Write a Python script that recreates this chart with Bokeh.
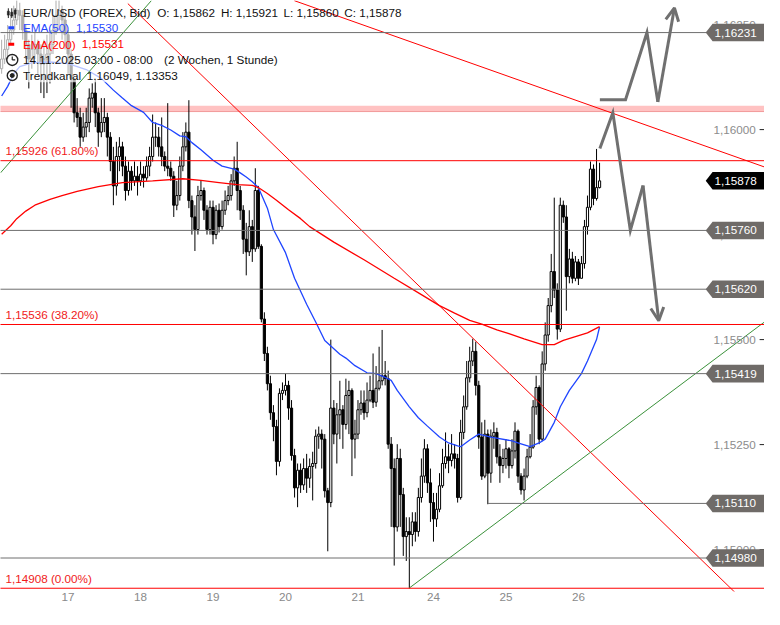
from bokeh.plotting import figure
from bokeh.models import Range1d, FixedTicker, Arrow, OpenHead
from bokeh.core.properties import value
from bokeh.embed import file_html
from bokeh.resources import INLINE

# ---------------- data (EUR/USD, 1h candles) ----------------
OPEN0 = 1.16145
CLOSE = [
    1.16168, 1.16191, 1.16214, 1.16237, 1.16261, 1.16284, 1.16272, 1.16237, 1.16203, 1.16168,
    1.16191, 1.16203, 1.16180, 1.16156, 1.16168, 1.16180, 1.16203, 1.16237, 1.16272, 1.16284,
    1.16261, 1.16226, 1.16180, 1.16121, 1.16040, 1.16029, 1.15982, 1.16006, 1.16017, 1.16075,
    1.16087, 1.16040, 1.15994, 1.16017, 1.16029, 1.15982, 1.15924, 1.15866, 1.15936, 1.15959,
    1.15913, 1.15855, 1.15901, 1.15878, 1.15889, 1.15878, 1.15894, 1.15885, 1.15913, 1.15936,
    1.15982, 1.15982, 1.15959, 1.15936, 1.15913, 1.15908, 1.15889, 1.15820, 1.15843, 1.15913,
    1.15959, 1.15994, 1.15831, 1.15792, 1.15762, 1.15843, 1.15855, 1.15808, 1.15762, 1.15815,
    1.15750, 1.15808, 1.15769, 1.15808, 1.15831, 1.15843, 1.15878, 1.15908, 1.15855, 1.15808,
    1.15739, 1.15709, 1.15769, 1.15716, 1.15855, 1.15722, 1.15549, 1.15467, 1.15395, 1.15326,
    1.15293, 1.15210, 1.15372, 1.15379, 1.15391, 1.15337, 1.15224, 1.15147, 1.15189, 1.15154,
    1.15193, 1.15170, 1.15198, 1.15205, 1.15270, 1.15275, 1.15263, 1.15140, 1.15112, 1.15337,
    1.15275, 1.15321, 1.15333, 1.15298, 1.15367, 1.15379, 1.15263, 1.15275, 1.15333, 1.15349,
    1.15326, 1.15356, 1.15379, 1.15351, 1.15384, 1.15402, 1.15414, 1.15407, 1.15251, 1.15193,
    1.15054, 1.15217, 1.15131, 1.15031, 1.15043, 1.15036, 1.15066, 1.15043, 1.15124, 1.15175,
    1.15240, 1.15159, 1.15112, 1.15073, 1.15096, 1.15152, 1.15205, 1.15221, 1.15212, 1.15228,
    1.15217, 1.15124, 1.15279, 1.15340, 1.15409, 1.15449, 1.15472, 1.15391, 1.15268, 1.15175,
    1.15275, 1.15182, 1.15270, 1.15279, 1.15221, 1.15200, 1.15217, 1.15240, 1.15200, 1.15235,
    1.15282, 1.15175, 1.15142, 1.15175, 1.15221, 1.15244, 1.15340, 1.15386, 1.15263, 1.15442,
    1.15511, 1.15581, 1.15662, 1.15618, 1.15525, 1.15820, 1.15792, 1.15650, 1.15692, 1.15646,
    1.15685, 1.15646, 1.15681, 1.15769, 1.15815, 1.15906, 1.15836, 1.15862, 1.15878,
]
HIGH = [
    1.16214, 1.16226, 1.16249, 1.16272, 1.16295, 1.16307, 1.16302, 1.16284, 1.16249, 1.16214,
    1.16226, 1.16237, 1.16214, 1.16203, 1.16214, 1.16226, 1.16237, 1.16272, 1.16307, 1.16307,
    1.16295, 1.16272, 1.16237, 1.16191, 1.16121, 1.16075, 1.16052, 1.16040, 1.16052, 1.16098,
    1.16110, 1.16121, 1.16052, 1.16075, 1.16075, 1.16040, 1.15994, 1.15959, 1.15971, 1.15982,
    1.15971, 1.15936, 1.15924, 1.15913, 1.15924, 1.15913, 1.15924, 1.15913, 1.15936, 1.15959,
    1.16036, 1.16017, 1.16006, 1.16029, 1.15948, 1.16063, 1.15924, 1.15901, 1.15878, 1.15936,
    1.15994, 1.16017, 1.16070, 1.15843, 1.15820, 1.15866, 1.15878, 1.15862, 1.15820, 1.15831,
    1.15831, 1.15820, 1.15824, 1.15831, 1.15855, 1.15866, 1.15894, 1.15936, 1.15971, 1.15866,
    1.15820, 1.15778, 1.15808, 1.15785, 1.15908, 1.15866, 1.15727, 1.15565, 1.15483, 1.15414,
    1.15344, 1.15309, 1.15384, 1.15398, 1.15419, 1.15402, 1.15356, 1.15240, 1.15205, 1.15205,
    1.15217, 1.15228, 1.15217, 1.15233, 1.15286, 1.15293, 1.15286, 1.15275, 1.15147, 1.15500,
    1.15356, 1.15349, 1.15402, 1.15344, 1.15407, 1.15402, 1.15384, 1.15309, 1.15356, 1.15379,
    1.15379, 1.15398, 1.15414, 1.15467, 1.15437, 1.15483, 1.15523, 1.15449, 1.15426, 1.15268,
    1.15217, 1.15251, 1.15240, 1.15147, 1.15077, 1.15077, 1.15089, 1.15089, 1.15147, 1.15217,
    1.15263, 1.15251, 1.15193, 1.15135, 1.15135, 1.15182, 1.15240, 1.15279, 1.15251, 1.15275,
    1.15251, 1.15228, 1.15309, 1.15367, 1.15449, 1.15483, 1.15502, 1.15495, 1.15402, 1.15303,
    1.15309, 1.15286, 1.15286, 1.15303, 1.15290, 1.15251, 1.15240, 1.15263, 1.15244, 1.15263,
    1.15303, 1.15286, 1.15182, 1.15193, 1.15240, 1.15275, 1.15356, 1.15414, 1.15391, 1.15472,
    1.15541, 1.15599, 1.15704, 1.15838, 1.15634, 1.15838, 1.15831, 1.15820, 1.15716, 1.15709,
    1.15699, 1.15692, 1.15699, 1.15785, 1.15843, 1.15924, 1.15917, 1.15954, 1.15921,
]
LOW = [
    1.16133, 1.16156, 1.16168, 1.16203, 1.16226, 1.16249, 1.16237, 1.16214, 1.16168, 1.16098,
    1.16145, 1.16168, 1.16133, 1.16087, 1.16075, 1.16087, 1.16110, 1.16180, 1.16226, 1.16237,
    1.16214, 1.16191, 1.16133, 1.16052, 1.16017, 1.16006, 1.15959, 1.15971, 1.15982, 1.15994,
    1.16052, 1.16006, 1.15959, 1.15982, 1.15994, 1.15936, 1.15901, 1.15820, 1.15843, 1.15901,
    1.15889, 1.15831, 1.15843, 1.15855, 1.15866, 1.15843, 1.15866, 1.15862, 1.15878, 1.15889,
    1.15924, 1.15959, 1.15936, 1.15913, 1.15901, 1.15889, 1.15878, 1.15792, 1.15808, 1.15831,
    1.15901, 1.15948, 1.15813, 1.15750, 1.15711, 1.15750, 1.15831, 1.15785, 1.15750, 1.15750,
    1.15727, 1.15739, 1.15755, 1.15762, 1.15797, 1.15820, 1.15831, 1.15866, 1.15808, 1.15785,
    1.15704, 1.15653, 1.15699, 1.15685, 1.15709, 1.15716, 1.15541, 1.15449, 1.15379, 1.15309,
    1.15258, 1.15177, 1.15198, 1.15356, 1.15367, 1.15309, 1.15212, 1.15124, 1.15101, 1.15135,
    1.15142, 1.15135, 1.15147, 1.15117, 1.15193, 1.15240, 1.15193, 1.15124, 1.14996, 1.15101,
    1.15251, 1.15205, 1.15263, 1.15240, 1.15286, 1.15275, 1.15175, 1.15217, 1.15263, 1.15321,
    1.15309, 1.15315, 1.15351, 1.15337, 1.15340, 1.15379, 1.15391, 1.15391, 1.15240, 1.15054,
    1.14962, 1.15043, 1.15054, 1.14985, 1.14973, 1.14908, 1.15008, 1.15019, 1.15031, 1.15112,
    1.15159, 1.15135, 1.15066, 1.15019, 1.15054, 1.15089, 1.15147, 1.15193, 1.15182, 1.15198,
    1.15193, 1.15112, 1.15119, 1.15263, 1.15333, 1.15398, 1.15437, 1.15367, 1.15240, 1.15166,
    1.15170, 1.15108, 1.15159, 1.15240, 1.15205, 1.15159, 1.15182, 1.15193, 1.15170, 1.15193,
    1.15217, 1.15159, 1.15131, 1.15117, 1.15170, 1.15217, 1.15240, 1.15321, 1.15251, 1.15258,
    1.15426, 1.15495, 1.15565, 1.15599, 1.15500, 1.15518, 1.15778, 1.15569, 1.15634, 1.15634,
    1.15639, 1.15630, 1.15646, 1.15669, 1.15750, 1.15808, 1.15820, 1.15831, 1.15860,
]

DAY_TICKS = [22, 46, 70, 94, 118, 143, 167, 191]
DAY_LABELS = ["17", "18", "19", "20", "21", "24", "25", "26"]

EMA50_IDX = [0, 2, 4, 6, 10, 16, 22, 28, 33, 37, 40, 43, 47, 50, 53, 56, 59, 61, 63, 66,
             70, 73, 77, 79, 81, 83, 85, 88, 90, 94, 97, 101, 104, 107, 112, 114, 117, 121, 124, 127,
             129, 131, 135, 138, 141, 145, 148, 151, 152, 155, 158, 162, 169, 172, 175, 178, 180, 183, 185, 188,
             192, 194, 197, 198]
EMA50_VAL = [1.16080, 1.16103, 1.16133, 1.16150, 1.16159, 1.16161, 1.16157, 1.16143, 1.16122, 1.16094,
             1.16075, 1.16057, 1.16041, 1.16017, 1.16010, 1.15999, 1.15985, 1.15983, 1.15969, 1.15952,
             1.15927, 1.15913, 1.15906, 1.15897, 1.15887, 1.15876, 1.15862, 1.15813, 1.15762, 1.15707,
             1.15646, 1.15584, 1.15542, 1.15498, 1.15465, 1.15456, 1.15438, 1.15421, 1.15419, 1.15410,
             1.15403, 1.15379, 1.15340, 1.15314, 1.15294, 1.15268, 1.15254, 1.15247, 1.15245, 1.15261,
             1.15275, 1.15268, 1.15259, 1.15252, 1.15245, 1.15254, 1.15263, 1.15303, 1.15340, 1.15379,
             1.15419, 1.15449, 1.15500, 1.15530]
EMA200_IDX = [0, 3, 5, 8, 11, 16, 20, 25, 32, 40, 50, 60, 66, 72, 78, 83, 85, 88, 91, 95,
              99, 102, 110, 120, 130, 139, 145, 150, 155, 159, 164, 168, 173, 179, 183, 186, 190, 194, 198]
EMA200_VAL = [1.15751, 1.15771, 1.15788, 1.15806, 1.15820, 1.15834, 1.15843, 1.15853, 1.15864, 1.15874,
              1.15878, 1.15883, 1.15879, 1.15874, 1.15869, 1.15867, 1.15862, 1.15848, 1.15832, 1.15809,
              1.15788, 1.15769, 1.15732, 1.15690, 1.15646, 1.15607, 1.15581, 1.15563, 1.15546, 1.15537,
              1.15523, 1.15514, 1.15502, 1.15488, 1.15488, 1.15498, 1.15507, 1.15516, 1.15531]

LEVELS = [1.16231, 1.15760, 1.15620, 1.15419, 1.15110, 1.14980]
LEVEL_START = [0, 0, 0, 0, 161, 0]
FIB_LEVELS = [1.15926, 1.15536, 1.14908]
FIB_PCT = ["61.80%", "38.20%", "0.00%"]
ZONE = [1.16043, 1.16057]
AXIS_TICKS = [1.1625, 1.1600, 1.1575, 1.1550, 1.1525, 1.1500]

TREND_STEEP_IDX = [41.79, 252.62]
TREND_STEEP_VAL = [1.16300, 1.14830]
TREND_FLAT_IDX = [96.93, 252.62]
TREND_FLAT_VAL = [1.16307, 1.15911]
TREND_UP_IDX = [134.9, 252.62]
TREND_UP_VAL = [1.14908, 1.15542]
TREND_UP2_IDX = [-0.38, 49.57]
TREND_UP2_VAL = [1.15897, 1.16307]

FC_UP_IDX = [198.1, 206.6, 213.7, 217.3, 222.8]
FC_UP_VAL = [1.16071, 1.16071, 1.16231, 1.16066, 1.16290]
FC_DN_IDX = [198.1, 202.4, 208.2, 212.4, 217.6]
FC_DN_VAL = [1.15955, 1.16040, 1.15760, 1.15867, 1.15545]

EMA50_LAST = 1.15530
EMA200_LAST = 1.15531

# ---------------- layout helpers (reference-pixel -> data) ----------------
PX = 0.0000232          # price per reference pixel
Y_AT_0 = 1.163074       # price at reference row 0
CANDLE_PX = 3.083       # reference pixels per candle
X_AT_0 = 1.17
REF_W, REF_H = 780, 625
W, H = 764, 609
BOTTOM = 18             # space for the date axis (figure pixels)
REF_FRAME_BOTTOM = (H - BOTTOM) * REF_H / H


def dx(px):
    return (px - X_AT_0) / CANDLE_PX


def dy(py):
    return Y_AT_0 - PX * py


def fmt(v):
    return f"{v:.5f}".replace(".", ",")


FONT = value("Liberation Sans")
FS = "11.7px"
GRAY_LINE = "#6e6e6e"
TAG_GRAY = "#6f6b68"
BLUE = "#1f45ff"
RED = "#ff0000"
GREEN = "#3a913a"
ARROW_GRAY = "#707070"

p = figure(width=W, height=H, output_backend="svg", toolbar_location=None,
           x_range=Range1d(dx(0), dx(REF_W)), y_range=Range1d(dy(REF_FRAME_BOTTOM), dy(0)),
           y_axis_location=None, min_border=0, min_border_bottom=BOTTOM,
           outline_line_color=None, background_fill_color="white", border_fill_color="white")
p.grid.visible = False

ax = p.xaxis[0]
ax.ticker = FixedTicker(ticks=DAY_TICKS)
ax.major_label_overrides = {t: l for t, l in zip(DAY_TICKS, DAY_LABELS)}
ax.axis_line_color = None
ax.major_tick_line_color = None
ax.minor_tick_line_color = None
ax.major_tick_out = 0
ax.major_tick_in = 0
ax.minor_tick_out = 0
ax.major_label_standoff = 1
ax.major_label_text_font = "Liberation Sans"
ax.major_label_text_font_size = FS
ax.major_label_text_color = "#8a8a8a"

n = len(CLOSE)
idx = list(range(n))
OPEN = [OPEN0] + CLOSE[:-1]
tops = [max(o, c) for o, c in zip(OPEN, CLOSE)]
bots = [min(o, c) for o, c in zip(OPEN, CLOSE)]
fills = ["white" if c >= o else "black" for o, c in zip(OPEN, CLOSE)]

XL, XR = dx(-20), dx(800)

# resistance zone
p.quad(left=XL, right=XR, bottom=ZONE[0], top=ZONE[1], fill_color="#ffc2c2", line_color=None)
p.line([XL, XR], [ZONE[0], ZONE[0]], line_color="#f29a9a", line_width=1)

# candles
p.segment(x0=idx, y0=LOW, x1=idx, y1=HIGH, line_color="black", line_width=1)
p.vbar(x=idx, width=0.72, top=tops, bottom=bots, fill_color=fills,
       line_color="black", line_width=1)

# EMAs
p.line(EMA50_IDX, EMA50_VAL, line_color=BLUE, line_width=1.3)
p.line(EMA200_IDX, EMA200_VAL, line_color=RED, line_width=1.3)

# legend background (semi-transparent)
p.quad(left=XL, right=dx(400), bottom=dy(84), top=dy(-10), fill_color="white",
       fill_alpha=0.68, line_color=None)

# trend lines
p.line(TREND_STEEP_IDX, TREND_STEEP_VAL, line_color=RED, line_width=1)
p.line(TREND_FLAT_IDX, TREND_FLAT_VAL, line_color=RED, line_width=1)
p.line(TREND_UP_IDX, TREND_UP_VAL, line_color=GREEN, line_width=1)
p.line(TREND_UP2_IDX, TREND_UP2_VAL, line_color=GREEN, line_width=1)

# horizontal support/resistance levels
for lv, st in zip(LEVELS, LEVEL_START):
    x0 = st if st > 0 else XL
    p.line([x0, dx(722)], [lv, lv], line_color=GRAY_LINE, line_width=1)

# fibonacci levels
for lv in FIB_LEVELS:
    p.line([XL, XR], [lv, lv], line_color=RED, line_width=1)
p.text(x=[dx(5)] * 3, y=[lv + 10.5 * PX for lv in FIB_LEVELS],
       text=[f"{fmt(lv)} ({pc})" for lv, pc in zip(FIB_LEVELS, FIB_PCT)],
       text_font=FONT, text_font_size=FS, text_color="#f01a1a",
       text_baseline="middle", text_align="left")

# forecast scenario arrows
p.line(FC_UP_IDX[:-1], FC_UP_VAL[:-1], line_color=ARROW_GRAY, line_width=3, line_join="miter")
p.line(FC_DN_IDX[:-1], FC_DN_VAL[:-1], line_color=ARROW_GRAY, line_width=3, line_join="miter")
for xs, ys in ((FC_UP_IDX, FC_UP_VAL), (FC_DN_IDX, FC_DN_VAL)):
    p.add_layout(Arrow(end=OpenHead(size=13, line_color=ARROW_GRAY, line_width=3),
                       x_start=xs[-2], y_start=ys[-2], x_end=xs[-1], y_end=ys[-1],
                       line_color=ARROW_GRAY, line_width=3))

# price axis labels (inside the plot, right side) with small tick dashes
p.text(x=[dx(771)] * len(AXIS_TICKS), y=AXIS_TICKS, text=[fmt(v) for v in AXIS_TICKS],
       text_font=FONT, text_font_size=FS, text_color="#8c8c8c",
       text_baseline="middle", text_align="right")
p.segment(x0=[dx(775)] * len(AXIS_TICKS), y0=AXIS_TICKS, x1=[dx(780)] * len(AXIS_TICKS),
          y1=AXIS_TICKS, line_color="#222222", line_width=1)

# price tags
tag_vals = LEVELS + [CLOSE[-1]]
tag_cols = [TAG_GRAY] * len(LEVELS) + ["black"]
hh = 9 * PX
xs_t, ys_t = [], []
for v in tag_vals:
    xs_t.append([dx(720), dx(727), dx(790), dx(790), dx(727)])
    ys_t.append([v, v + hh, v + hh, v - hh, v - hh])
p.patches(xs_t, ys_t, fill_color=tag_cols, line_color=None)
p.text(x=[dx(729)] * len(tag_vals), y=tag_vals, text=[fmt(v) for v in tag_vals],
       text_font=FONT, text_font_size=FS, text_color="white",
       text_baseline="middle", text_align="left")

# legend / header texts
o_l, h_l, l_l, c_l = OPEN[-1], HIGH[-1], LOW[-1], CLOSE[-1]
hdr = [
    (23, 12, "EUR/USD (FOREX, Bid)", "#111111"),
    (160, 12, f"O: {fmt(o_l)}", "#111111"),
    (225, 12, f"H: {fmt(h_l)}", "#111111"),
    (289, 12, f"L: {fmt(l_l)}", "#111111"),
    (351, 12, f"C: {fmt(c_l)}", "#111111"),
    (23, 28, "EMA(50)", BLUE),
    (77, 28, fmt(EMA50_LAST), BLUE),
    (23, 45, "EMA(200)", RED),
    (83, 45, fmt(EMA200_LAST), RED),
    (23, 61, "14.11.2025 03:00 - 08:00", "#111111"),
    (167, 61, "(2 Wochen, 1 Stunde)", "#111111"),
    (23, 77, "Trendkanal", "#111111"),
    (88, 77, "1.16049, 1.13353", "#111111"),
]
p.text(x=[dx(a) for a, _, _, _ in hdr], y=[dy(b) for _, b, _, _ in hdr],
       text=[t for _, _, t, _ in hdr], text_color=[c for _, _, _, c in hdr],
       text_font=FONT, text_font_size=FS, text_baseline="middle", text_align="left")

# legend icons
p.segment(x0=[dx(8), dx(11.5), dx(15)], y0=[dy(8), dy(8), dy(8)],
          x1=[dx(8), dx(11.5), dx(15)], y1=[dy(18), dy(18), dy(18)],
          line_color="#222222", line_width=1)
p.quad(left=[dx(7), dx(10.5), dx(14)], right=[dx(9), dx(12.5), dx(16)],
       top=[dy(11), dy(12), dy(10)], bottom=[dy(15), dy(16), dy(14)],
       fill_color="#222222", line_color="#222222", line_width=0.6)
p.segment(x0=[dx(8), dx(8)], y0=[dy(28), dy(45)], x1=[dx(14), dx(14)], y1=[dy(28), dy(45)],
          line_color=[BLUE, RED], line_width=3)
p.scatter(x=[dx(12), dx(12)], y=[dy(61), dy(77)], size=[11, 10], marker="circle",
          fill_color=None, line_color="#222222", line_width=1.4)
p.scatter(x=[dx(12)], y=[dy(77)], size=4, marker="circle", fill_color="#222222",
          line_color="#222222")
p.segment(x0=[dx(12), dx(12)], y0=[dy(61), dy(61)], x1=[dx(12), dx(15)], y1=[dy(57.5), dy(61)],
          line_color="#222222", line_width=1.2)

open("out.html", "w").write(file_html(p, INLINE))
